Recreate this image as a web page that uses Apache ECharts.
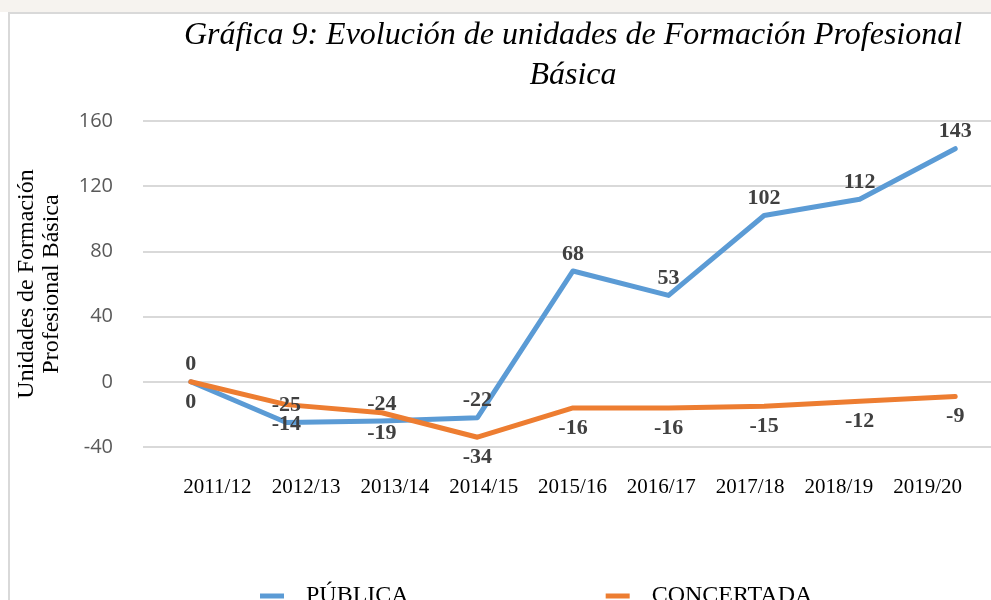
<!DOCTYPE html>
<html>
<head>
<meta charset="utf-8">
<script src="https://cdn.jsdelivr.net/npm/echarts@6/dist/echarts.min.js"></script>
<style>
  html, body { margin: 0; padding: 0; background: #fff; }
  .band { position: absolute; left: 0; top: 0; width: 991px; height: 12px; background: #f6f3ef; }
  .frame { position: absolute; left: 8px; top: 12px; width: 983px; height: 588px;
           border-top: 2px solid #d9d9d9; border-left: 2px solid #d9d9d9; box-sizing: border-box; }
  #chart { position: absolute; left: 0; top: 0; width: 991px; height: 600px; }
</style>
</head>
<body>
<div class="band"></div>
<div class="frame"></div>
<div id="chart"></div>
<script>
const cursos = ["2011/12", "2012/13", "2013/14", "2014/15", "2015/16", "2016/17", "2017/18", "2018/19", "2019/20"];
const publica = [0, -25, -24, -22, 68, 53, 102, 112, 143];
const concertada = [0, -14, -19, -34, -16, -16, -15, -12, -9];
const tituloLineas = ["Gráfica 9: Evolución de unidades de Formación Profesional", "Básica"];

const serif = "'Liberation Serif', 'Times New Roman', serif";
const chart = echarts.init(document.getElementById("chart"));

const labelStyle = {
  show: true,
  fontFamily: serif,
  fontWeight: "bold",
  fontSize: 22,
  color: "#404040",
};

chart.setOption({
  animation: false,
  title: {
    text: tituloLineas.join("\n"),
    left: 568,
    top: 11,
    textAlign: "center",
    textStyle: {
      fontFamily: serif,
      fontStyle: "italic",
      fontWeight: "normal",
      fontSize: 32,
      lineHeight: 40,
      color: "#000",
    },
  },
  legend: {
    left: 255,
    top: 579,
    itemWidth: 24,
    itemHeight: 5,
    itemGap: 197,
    icon: "rect",
    textStyle: { fontFamily: serif, fontSize: 24, color: "#000", padding: [0, 0, 0, 17] },
    data: ["PÚBLICA", "CONCERTADA"],
  },
  grid: [
    { left: 143, top: 121, width: 860, height: 326, containLabel: false, outerBoundsMode: "none" },
    // the category labels sit on a slightly narrower band than the points
    { left: 173, top: 121, width: 799, height: 326, containLabel: false, outerBoundsMode: "none" },
  ],
  xAxis: [
    {
      type: "category",
      data: cursos,
      gridIndex: 0,
      boundaryGap: true,
      axisLine: { show: false },
      axisTick: { show: false },
      axisLabel: { show: false },
    },
    {
      type: "category",
      data: cursos,
      gridIndex: 1,
      boundaryGap: true,
      axisLine: { show: false },
      axisTick: { show: false },
      axisLabel: { interval: 0, margin: 30, fontFamily: serif, fontSize: 21, color: "#000" },
    },
  ],
  yAxis: [
    {
      type: "value",
      gridIndex: 0,
      min: -40,
      max: 160,
      interval: 40,
      name: "Unidades de Formación\nProfesional Básica",
      nameLocation: "middle",
      nameGap: 79,
      nameTextStyle: { fontFamily: serif, fontSize: 24, lineHeight: 25, color: "#000" },
      axisLine: { show: false },
      axisTick: { show: false },
      axisLabel: { margin: 30, fontFamily: "'Open Sans', sans-serif", fontSize: 20, color: "#595959" },
      splitLine: { lineStyle: { color: "#d9d9d9", width: 2 } },
    },
    {
      type: "value",
      gridIndex: 1,
      show: false,
      splitLine: { show: false },
    },
  ],
  series: [
    {
      name: "PÚBLICA",
      type: "line",
      data: publica,
      symbol: "circle",
      symbolSize: 0.1,
      color: "#5b9bd5",
      lineStyle: { width: 5, cap: "round", join: "round" },
      label: Object.assign({ position: "top", distance: 6 }, labelStyle),
    },
    {
      name: "CONCERTADA",
      type: "line",
      data: concertada,
      symbol: "circle",
      symbolSize: 0.1,
      color: "#ed7d31",
      lineStyle: { width: 5, cap: "round", join: "round" },
      label: Object.assign({ position: "bottom", distance: 9 }, labelStyle),
    },
  ],
});
</script>
</body>
</html>
